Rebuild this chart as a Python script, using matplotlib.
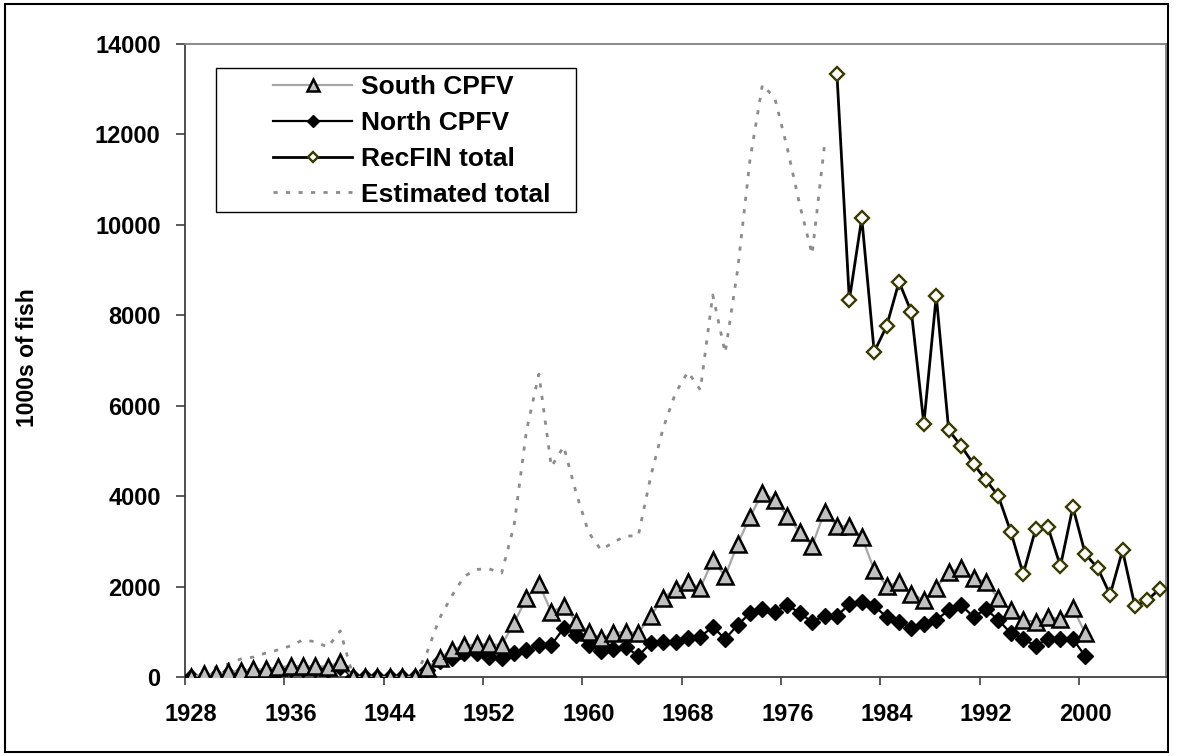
"""
Catch series 1928-2006: South/North CPFV, RecFIN total and estimated total.
Excel-style line chart rebuilt in matplotlib, saved as out.png.
"""
import numpy as np
import matplotlib
matplotlib.use("Agg")
import matplotlib.pyplot as plt
from matplotlib.patches import Rectangle

plt.rcParams["font.family"] = ["Liberation Sans", "DejaVu Sans"]
plt.rcParams["font.weight"] = "bold"

FIRST_YEAR = 1928
LAST_YEAR = 2006

# 1000s of fish
south_years = np.arange(1928, 2001)
south_cpfv = [
    0, 60, 60, 110, 130, 170, 170, 220, 240, 240, 240, 230, 330,     # 1928-40
    0, 0, 0, 0, 0, 0,                                               # 1941-46
    200, 420, 600, 700, 720, 720, 710, 1190, 1750, 2060, 1440, 1570,  # 1947-58
    1220, 1000, 860, 970, 1000, 970, 1350, 1750, 1950, 2100, 1970,   # 1959-69
    2590, 2230, 2940, 3540, 4070, 3920, 3550, 3210, 2900, 3650,      # 1970-79
    3340, 3340, 3100, 2370, 2010, 2100, 1840, 1700, 1970, 2320,      # 1980-89
    2410, 2190, 2100, 1740, 1480, 1260, 1220, 1330, 1280, 1520, 970, # 1990-2000
]
north_years = np.arange(1928, 2001)
north_cpfv = [
    0, 0, 30, 60, 80, 100, 110, 130, 170, 170, 170, 160, 220,
    0, 0, 0, 0, 0, 0,
    150, 360, 420, 530, 530, 450, 420, 530, 600, 710, 710, 1080,
    930, 710, 580, 630, 670, 460, 750, 780, 780, 860, 890,
    1110, 840, 1150, 1410, 1500, 1440, 1600, 1410, 1220, 1350,
    1350, 1610, 1660, 1570, 1330, 1220, 1080, 1170, 1260, 1480,
    1590, 1330, 1500, 1260, 970, 840, 690, 840, 840, 840, 460,
]
recfin_years = np.arange(1980, 2007)
recfin_total = [
    13340, 8340, 10150, 7190, 7760, 8740, 8070, 5600, 8430, 5460,
    5110, 4710, 4360, 4000, 3210, 2280, 3270, 3310, 2450, 3760,
    2720, 2410, 1820, 2800, 1560, 1700, 1950,
]
est_years = np.arange(1928, 1980)
estimated_total = [
    0, 60, 220, 290, 400, 440, 530, 600, 690, 820, 780, 660, 1020,
    50, 0, 0, 0, 0, 0,
    550, 1300, 1800, 2230, 2380, 2390, 2300, 3350, 5450, 6700, 4650, 5100,
    4070, 3200, 2810, 2980, 3120, 3120, 4430, 5500, 6280, 6750, 6350,
    8450, 7170, 9000, 11440, 13100, 12800, 11700, 10450, 9350, 11770,
]
label_years = list(range(1928, 2001, 8))

W, H = 1187, 756
fig = plt.figure(figsize=(W / 100, H / 100), dpi=100)
# plot area in pixels: x 185..1166, y 44..677
ax = fig.add_axes([185 / W, (H - 677) / H, (1166 - 185) / W, (677 - 44) / H])

ax.plot(est_years - FIRST_YEAR, estimated_total, color="#8c8c8c", lw=2.0,
        ls=(0, (1.5, 3.0)), label="Estimated total", zorder=2)
ax.plot(north_years - FIRST_YEAR, north_cpfv, color="black", lw=1.6,
        marker="D", ms=8, mfc="black", mec="black", mew=1,
        label="North CPFV", zorder=3)
ax.plot(south_years - FIRST_YEAR, south_cpfv, color="#a6a6a6", lw=1.6,
        marker="^", ms=11.5, mfc="#c0c0c0", mec="black", mew=1.8,
        label="South CPFV", zorder=4)
ax.plot(recfin_years - FIRST_YEAR, recfin_total, color="black", lw=2.0,
        marker="D", ms=7, mfc="white", mec="#3a3a00", mew=1.7,
        label="RecFIN total", zorder=5)

ax.set_xlim(-0.5, LAST_YEAR - FIRST_YEAR + 0.5)
ax.set_ylim(0, 14000)
ax.set_yticks(np.arange(0, 14001, 2000))

# Excel category axis: tick marks between categories, labels on categories
ax.set_xticks(np.arange(-0.5, LAST_YEAR - FIRST_YEAR, 8))
ax.set_xticklabels([])
ax.set_xticks([y - FIRST_YEAR for y in label_years], minor=True)
ax.set_xticklabels([str(y) for y in label_years], minor=True)
ax.tick_params(axis="x", which="major", direction="out", length=6,
               width=1.2, color="#404040")
ax.tick_params(axis="x", which="minor", length=0, pad=19, labelsize=17)
ax.tick_params(axis="y", direction="out", length=6.5, width=1.2,
               color="#404040", pad=11, labelsize=17)

for side in ("left", "bottom"):
    ax.spines[side].set_color("#404040")
    ax.spines[side].set_linewidth(1.3)
for side in ("top", "right"):
    ax.spines[side].set_color("#808080")
    ax.spines[side].set_linewidth(1.3)

fig.text(28 / W, 1 - 358 / H, "1000s of fish", rotation=90, ha="center",
         va="center", fontsize=16.5, fontweight="bold")

# legend box drawn as its own rectangle (Excel pads it unevenly)
fig.patches.append(Rectangle((216 / W, 1 - 212 / H), (576 - 216) / W,
                             (212 - 68) / H, transform=fig.transFigure,
                             fill=False, ec="black", lw=1.0))
handles, labels = ax.get_legend_handles_labels()
order = [2, 1, 3, 0]
ax.legend([handles[i] for i in order], [labels[i] for i in order],
          loc="upper left", bbox_to_anchor=(273 / W, 1 - 75 / H),
          bbox_transform=fig.transFigure, frameon=False, borderpad=0,
          borderaxespad=0, handlelength=3.0, handletextpad=0.35,
          labelspacing=0.45, numpoints=1, markerscale=0.8,
          prop={"size": 19, "weight": "bold"})

# outer chart frame
fig.patches.append(Rectangle((5 / W, 4 / H), (1168 - 5) / W, (752 - 4) / H,
                             transform=fig.transFigure, fill=False,
                             ec="black", lw=1.5))

fig.savefig("out.png", dpi=100)
